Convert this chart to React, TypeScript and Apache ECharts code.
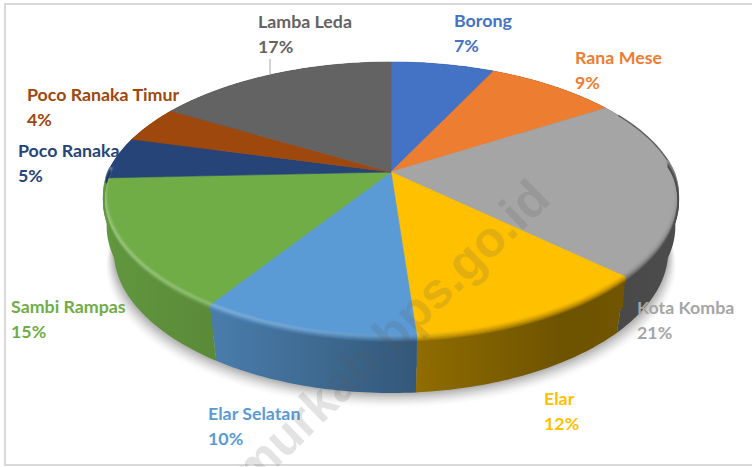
import React, { useEffect, useRef } from "react";
import * as echarts from "echarts";

const categories = ["Borong", "Rana Mese", "Kota Komba", "Elar", "Elar Selatan", "Sambi Rampas", "Poco Ranaka", "Poco Ranaka Timur", "Lamba Leda"];
// shares read from the slice boundaries; the labels show them rounded
const shares = [7.1, 8.9, 21, 11.8, 10.4, 15.1, 4.9, 4.3, 16.5];
const sliceColors = ["#4472C4", "#ED7D31", "#A5A5A5", "#FFC000", "#5B9BD5", "#70AD47", "#264478", "#9E480E", "#636363"];
const labelAnchors = [
  [454, 20], [575, 57], [637, 307], [544, 398], [208, 413], [11, 306], [18, 150], [27, 94], [258, 21],
];

const CX = 391, CY = 172, RX = 283, RY = 132, PERSP = 0.2, DEPTH = 56, BASE_SCALE = 0.965, MID_SCALE = 0.99;
const LEFT = 103, RIGHT = 680;
const FONT = "Lato";
const total = shares.reduce((a, b) => a + b, 0);

function project(deg: number, rho = 1, dy = 0, sx = 1): number[] {
  const a = (deg * Math.PI) / 180;
  const u = Math.sin(a) * rho, v = Math.cos(a) * rho;
  const w = 1 + PERSP * v;
  const narrow = v < 0 ? 1 + 0.03 * v : 1 - 0.01 * v;
  return [CX + (RX * u * narrow * sx) / w, CY - (RY * v) / w + dy];
}
function arc(a0: number, a1: number, rho = 1, dy = 0, sx = 1): number[][] {
  const pts: number[][] = [];
  const n = Math.max(2, Math.ceil(Math.abs(a1 - a0)));
  for (let i = 0; i <= n; i++) pts.push(project(a0 + ((a1 - a0) * i) / n, rho, dy, sx));
  return pts;
}
function sliceAngles(i: number): number[] {
  let s = 0;
  for (let k = 0; k < i; k++) s += shares[k];
  return [(s / total) * 360, ((s + shares[i]) / total) * 360];
}
function hex(c: string): number[] {
  return [1, 3, 5].map((i) => parseInt(c.slice(i, i + 2), 16));
}
function rgb(c: number[]): string {
  return `rgb(${c.map((x) => Math.max(0, Math.min(255, Math.round(x)))).join(",")})`;
}
const wallStops = [[0, 0.87], [0.2, 0.8], [0.55, 0.56], [0.8, 0.43], [1, 0.46]];
function wallMult(t: number): number {
  for (let i = 1; i < wallStops.length; i++) {
    if (t <= wallStops[i][0]) {
      const [t0, m0] = wallStops[i - 1], [t1, m1] = wallStops[i];
      return m0 + ((m1 - m0) * (t - t0)) / (t1 - t0);
    }
  }
  return 0.46;
}
function hGrad(stopColor: (t: number) => string) {
  const stops = [];
  for (let i = 0; i <= 10; i++) stops.push({ offset: i / 10, color: stopColor(i / 10) });
  return new echarts.graphic.LinearGradient(LEFT, 0, RIGHT, 0, stops, true);
}
function wallGrad(color: string) {
  const c = hex(color);
  return hGrad((t) => rgb(c.map((x) => x * wallMult(t))));
}
// k runs across the rim's bevel, from -1 on the top face to +1 on the wall
function bevelGrad(color: string, k: number) {
  const c = hex(color);
  return hGrad((t) => {
    const m = wallMult(t);
    const lit = Math.max(0, (0.68 - t) / 0.68);
    const mix = (k + 1) / 2;
    const base = 1 + (m - 1) * mix * mix;
    const glow = lit * 0.34 * Math.max(0, 1 - Math.abs(k + 0.1) * 1.4);
    return rgb(c.map((x) => x * base + (255 - x) * glow));
  });
}

// soft drop shadow under the pie: opaque outlines from pale to darker, outermost first
function renderShadow() {
  const children: any[] = [];
  const LAYERS = 14;
  for (let k = LAYERS; k >= 1; k--) {
    const g = Math.round(255 - 85 * Math.pow(1 - k / LAYERS, 1.6));
    children.push({
      type: "polygon",
      shape: { points: arc(0, 360, 1, DEPTH + k * 1.15, BASE_SCALE + k * 0.0022) },
      style: { fill: rgb([g, g, g]), stroke: "none" },
      silent: true,
    });
  }
  return { type: "group", children };
}

function renderWall(params: any, api: any) {
  const i = params.dataIndex;
  api.value(0);
  const [a0, a1] = sliceAngles(i);
  const fill = wallGrad(sliceColors[i]);
  return {
    type: "group",
    children: [
      {
        type: "polygon",
        shape: { points: arc(a0, a1).concat(arc(a1, a0, 1, DEPTH * 0.55, MID_SCALE)) },
        style: { fill, stroke: "none" },
        silent: true,
      },
      {
        type: "polygon",
        shape: { points: arc(a0, a1).concat(arc(a1, a0, 1, DEPTH, BASE_SCALE)) },
        style: { fill, stroke: "none" },
        silent: true,
      },
    ],
  };
}

function renderTop(params: any, api: any) {
  const i = params.dataIndex;
  api.value(0);
  const [a0, a1] = sliceAngles(i);
  const pts = [project(0, 0)].concat(arc(a0, a1));
  const children: any[] = [{
    type: "polygon",
    shape: { points: pts },
    style: { fill: sliceColors[i], stroke: sliceColors[i], lineWidth: 0.6 },
    silent: true,
  }];
  const e0 = Math.max(a0, 62), e1 = Math.min(a1, 86);
  if (e1 > e0) {
    children.push({
      type: "polyline",
      shape: { points: arc(e0, e1) },
      style: { stroke: wallGrad(sliceColors[i]), lineWidth: 1.6, fill: "none", opacity: 0.7 },
      silent: true,
    });
  }
  const b0 = Math.max(a0, 85), b1 = Math.min(a1, 272);
  if (b1 > b0) {
    for (let s = -5; s <= 5; s++) {
      const k = s / 5;
      const rho = s < 0 ? 1 + s * 0.0035 : 1;
      const dy = s > 0 ? s * 1.1 : 0;
      children.push({
        type: "polyline",
        shape: { points: arc(b0, b1, rho, dy) },
        style: { stroke: bevelGrad(sliceColors[i], k), lineWidth: 1.7, fill: "none" },
        silent: true,
      });
    }
  }
  return { type: "group", children };
}

function renderLabel(params: any, api: any) {
  const i = params.dataIndex;
  const v = api.value(0);
  const [x, y] = labelAnchors[i];
  const mk = (text: string, ty: number) => ({
    type: "text",
    x,
    y: ty,
    silent: true,
    style: {
      text,
      fill: sliceColors[i],
      fontFamily: FONT,
      fontWeight: 700,
      fontSize: 17.8,
      textAlign: "left",
      textVerticalAlign: "middle",
      verticalAlign: "middle",
    },
  });
  return { type: "group", children: [mk(categories[i], y), mk(`${Math.round(v)}%`, y + 25)] };
}

export default function App() {
  const ref = useRef<HTMLDivElement>(null);
  useEffect(() => {
    document.body.style.margin = "0";
    const chart = echarts.init(ref.current!, null, { renderer: "svg" });
    const data = shares.map((v) => [v]);
    chart.setOption({
      animation: false,
      backgroundColor: "#fff",
      graphic: [
        { type: "rect", z: 0, silent: true, shape: { x: 5, y: 4, width: 770, height: 461 }, style: { fill: "none", stroke: "#d9d9d9", lineWidth: 2 } },
        { type: "line", z: 3, silent: true, shape: { x1: 270, y1: 59, x2: 270, y2: 74 }, style: { stroke: "#a6a6a6", lineWidth: 1 } },
        {
          type: "text", z: 20, silent: true, x: 558, y: 207, rotation: (44 * Math.PI) / 180,
          style: { text: "timurkab.bps.go.id", fill: "rgba(90,90,90,0.17)", fontFamily: "Liberation Sans", fontWeight: 700, fontSize: 50, textAlign: "right", textVerticalAlign: "bottom", verticalAlign: "bottom" },
        },
      ],
      series: [
        { type: "custom", coordinateSystem: "none", z: 1, data: [[1]], renderItem: renderShadow, silent: true },
        { type: "custom", coordinateSystem: "none", z: 2, data, renderItem: renderWall, silent: true },
        { type: "custom", coordinateSystem: "none", z: 4, data, renderItem: renderTop, silent: true },
        { type: "custom", coordinateSystem: "none", z: 10, data, renderItem: renderLabel, silent: true },
      ],
    });
    return () => chart.dispose();
  }, []);
  return <div ref={ref} style={{ position: "absolute", left: 0, top: 0, width: 752, height: 467, overflow: "hidden" }} />;
}
